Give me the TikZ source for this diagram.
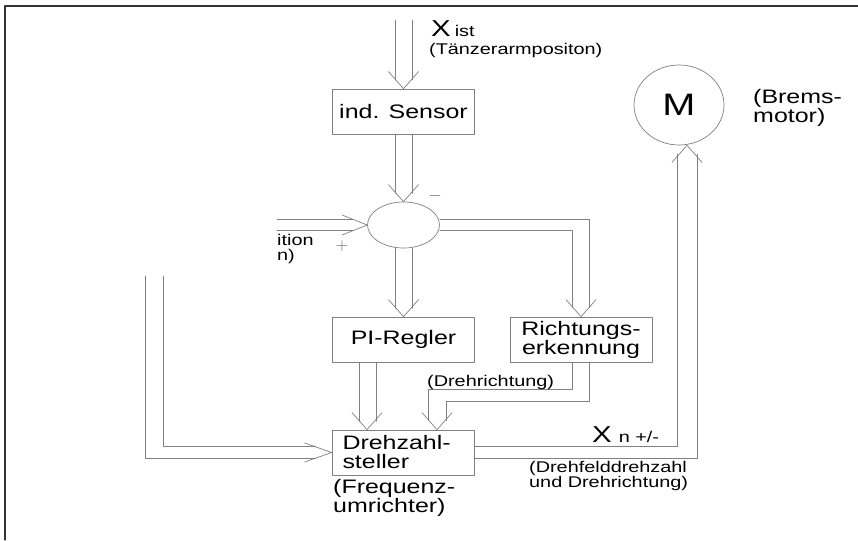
\documentclass[tikz,border=0pt]{standalone}
\usepackage{fontspec}
\setmainfont{Liberation Sans}[FakeStretch=1.28]
\usetikzlibrary{shapes.geometric}
\newcommand{\boxfont}{\fontsize{19.5}{19}\selectfont}
\newcommand{\smallfont}{\fontsize{15.5}{15}\selectfont}
\newcommand{\xfont}{\fontsize{23}{23}\selectfont}
\newcommand{\mfont}{\fontsize{31}{31}\selectfont}
\newcommand{\headdown}[1]{\draw[pipe] (#1) ++(-15,-17) -- (#1) -- ++(15,-17);}
\begin{document}
\begin{tikzpicture}[x=1pt, y=-1pt, line join=round, line cap=round,
    pipe/.style={draw=black!50, line width=0.7pt},
    blk/.style={draw=black!50, line width=0.7pt, rectangle, minimum width=142pt, minimum height=45pt, inner sep=0pt, font=\boxfont},
    lbl/.style={inner sep=0pt, align=left}]
    \useasboundingbox (0,0) rectangle (858,540);
    \draw[line width=1.2pt, black!80] (858,6) -- (5,6) -- (5,540);
    \node[blk] (sensor) at (403.5,111.5) {ind. Sensor};
    \node[ellipse, draw=black!50, line width=0.7pt, minimum width=72pt, minimum height=46pt, inner sep=0pt] (sum) at (403.5,225) {};
    \node[blk] (pi) at (403.5,339.5) {PI-Regler};
    \node[blk, align=center] (dir) at (581,339.5) {Richtungs-\\erkennung};
    \node[blk, align=left, text width=121pt] (speed) at (403,452.5) {Drehzahl-\\steller};
    \node[ellipse, draw=black!50, line width=0.7pt, minimum width=90pt, minimum height=80pt, inner sep=0pt, font=\mfont] (motor) at (679,105) {M};
    \coordinate (xin) at (403.5,20);
    \coordinate (setin) at (277,225);
    \coordinate (fbin) at (154,276);
    \coordinate (mtip) at ([xshift=8]motor.south);
    % Istwert zum Sensor
    \draw[pipe] ([xshift=-8.5]xin) -- ++(0,60);
    \draw[pipe] ([xshift=8.5]xin) -- ++(0,60);
    \headdown{sensor.north}
    \draw[pipe] ([xshift=-8.5]sensor.south) -- ++(0,59);
    \draw[pipe] ([xshift=8.5]sensor.south) -- ++(0,59);
    \headdown{sum.north}
    \draw[pipe] ([yshift=5.5]setin) -- ++(76,0);
    \draw[pipe] ([yshift=-5.5]setin) -- ++(76,0);
    \draw[pipe] (sum.west) ++(-25,-10) -- (sum.west) -- ++(-25,10);
    \draw[pipe] ([xshift=-8.5]sum.south) -- ++(0,60);
    \draw[pipe] ([xshift=8.5]sum.south) -- ++(0,60);
    \headdown{pi.north}
    \draw[pipe] ([yshift=5.5]sum.east) -| ([xshift=8.5,yshift=9]dir.north);
    \draw[pipe] ([yshift=-5.5]sum.east) -| ([xshift=-8.5,yshift=9]dir.north);
    \headdown{dir.north}
    % zum Drehzahlsteller
    \draw[pipe] ([xshift=-44.5]pi.south) -- ++(0,59);
    \draw[pipe] ([xshift=-27.5]pi.south) -- ++(0,59);
    \headdown{[xshift=-36]speed.north}
    \draw[pipe] ([xshift=-8.5]dir.south) -- ++(0,27) -| ([xshift=25,yshift=9]speed.north);
    \draw[pipe] ([xshift=8.5]dir.south) -- ++(0,39) -| ([xshift=43,yshift=9]speed.north);
    \headdown{[xshift=34]speed.north}
    \draw[pipe] ([xshift=-9]fbin) |- ([xshift=-16,yshift=-6]speed.west);
    \draw[pipe] ([xshift=9]fbin) |- ([xshift=-16,yshift=6]speed.west);
    \draw[pipe] (speed.west) ++(-27,-9.5) -- (speed.west) -- ++(-27,9.5);
    % zum Motor
    \draw[pipe] ([yshift=5.75]speed.east) -| ([xshift=-10,yshift=-9]mtip);
    \draw[pipe] ([yshift=-5.75]speed.east) -| ([xshift=10,yshift=-9]mtip);
    \draw[pipe] (mtip) ++(-15,17) -- (mtip) -- ++(15,17);
    % Beschriftung
    \node[lbl, anchor=base west] (xist) at (431,37) {{\xfont X}\hspace{4pt}{\smallfont ist}};
    \node[lbl, anchor=west, font=\smallfont] (tanz) at (429,50) {(Tänzerarmpositon)};
    \node[text=black!60, font=\fontsize{16}{16}\selectfont] (minus) at (435,196) {$-$};
    \node[text=black!60, font=\fontsize{16}{16}\selectfont] (plus) at (342,246) {$+$};
    \node[lbl, anchor=north west, font=\smallfont] (cut) at (277,234) {ition\\n)};
    \node[lbl, anchor=west, font=\smallfont] (drl) at (427,382) {(Drehrichtung)};
    \node[lbl, anchor=base west] (xn) at (592,442) {{\xfont X}\hspace{7pt}{\smallfont n +/-}};
    \node[lbl, anchor=north west, font=\smallfont] (feld) at (529,461) {(Drehfelddrehzahl\\und Drehrichtung)};
    \node[lbl, anchor=north west, font=\boxfont] (freq) at (333,479) {(Frequenz-\\umrichter)};
    \node[lbl, anchor=west, font=\boxfont] (brems) at (753,108) {(Brems-\\motor)};
\end{tikzpicture}
\end{document}
